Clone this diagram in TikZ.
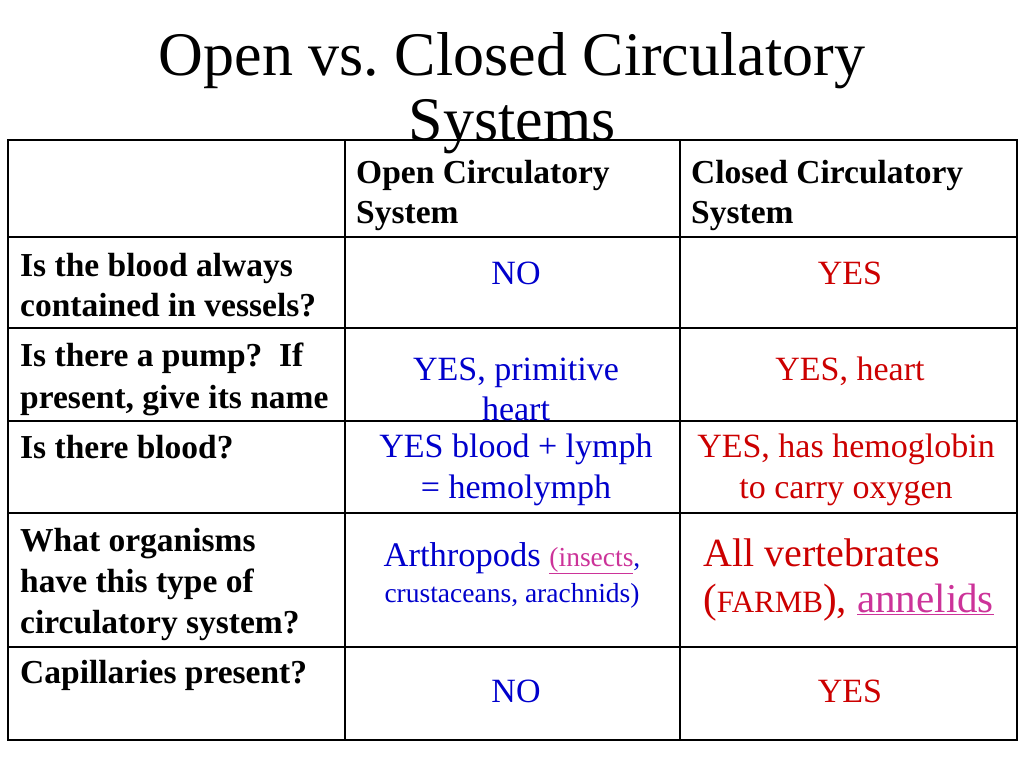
\documentclass[tikz,border=0pt]{standalone}
\usepackage{fontspec}
\setmainfont{Liberation Serif}
\definecolor{tblue}{RGB}{0,0,204}
\definecolor{tred}{RGB}{204,0,0}
\definecolor{tpurple}{RGB}{204,51,153}
\newcommand{\ul}[1]{\underline{#1}}
\frenchspacing
\begin{document}
\begin{tikzpicture}[x=1pt,y=-1pt,
  q/.style={anchor=base west,inner sep=0pt,font=\fontsize{33.5}{40}\selectfont\bfseries},
  hd/.style={q},
  ans/.style={anchor=base,inner sep=0pt,font=\fontsize{34}{40}\selectfont},
  grid/.style={line width=2.5pt}]
\useasboundingbox (0,0) rectangle (1024,768);
\node[anchor=base,inner sep=0pt,font=\fontsize{62}{66}\selectfont] (t1) at (512,75) {Open vs. Closed Circulatory};
\node[anchor=base,inner sep=0pt,font=\fontsize{62}{66}\selectfont] (t2) at (512,140) {Systems};
\draw[grid] (8,140) rectangle (1017,740);
\foreach \x in {345,680} \draw[grid] (\x,140) -- (\x,740);
\foreach \y in {237,328,421,513,647} \draw[grid] (8,\y) -- (1017,\y);
% headers
\node[hd] (h1a) at (356,183) {Open Circulatory};
\node[hd] (h1b) at (356,223) {System};
\node[hd] (h2a) at (691,183) {Closed Circulatory};
\node[hd] (h2b) at (691,223) {System};
% questions
\node[q] (q1a) at (20,276) {Is the blood always};
\node[q] (q1b) at (20,316) {contained in vessels?};
\node[q] (q2a) at (20,366) {Is there a pump?\ \ If};
\node[q] (q2b) at (20,408) {present, give its name};
\node[q] (q3) at (20,458) {Is there blood?};
\node[q] (q4a) at (20,551) {What organisms};
\node[q] (q4b) at (20,592) {have this type of};
\node[q] (q4c) at (20,633) {circulatory system?};
\node[q] (q5) at (20,683) {Capillaries present?};
% open
\node[ans,text=tblue] (o1) at (516,284) {NO};
\node[ans,text=tblue] (o2a) at (516,380) {YES, primitive};
\node[ans,text=tblue] (o2b) at (516,420) {heart};
\node[ans,text=tblue] (o3a) at (516,457) {YES blood + lymph};
\node[ans,text=tblue] (o3b) at (516,498) {= hemolymph};
\node[ans,text=tblue,font=\fontsize{34.5}{40}\selectfont] (o4a) at (512,566) {Arthropods {\fontsize{27.5}{30}\selectfont\textcolor{tpurple}{\ul{(insects}},}};
\node[ans,text=tblue,font=\fontsize{27.5}{30}\selectfont] (o4b) at (512,602) {crustaceans, arachnids)};
\node[ans,text=tblue] (o5) at (516,702) {NO};
% closed
\node[ans,text=tred] (c1) at (850,284) {YES};
\node[ans,text=tred] (c2) at (850,380) {YES, heart};
\node[ans,text=tred] (c3a) at (846,457) {YES, has hemoglobin};
\node[ans,text=tred] (c3b) at (846,498) {to carry oxygen};
\node[anchor=base west,inner sep=0pt,text=tred,font=\fontsize{40}{40}\selectfont] (c4a) at (703,566) {All vertebrates};
\node[anchor=base west,inner sep=0pt,text=tred,font=\fontsize{41}{40}\selectfont] (c4b) at (703,612) {({\fontsize{31}{30}\selectfont FARMB}), \textcolor{tpurple}{\ul{annelids}}};
\node[ans,text=tred] (c5) at (850,702) {YES};
\end{tikzpicture}
\end{document}
